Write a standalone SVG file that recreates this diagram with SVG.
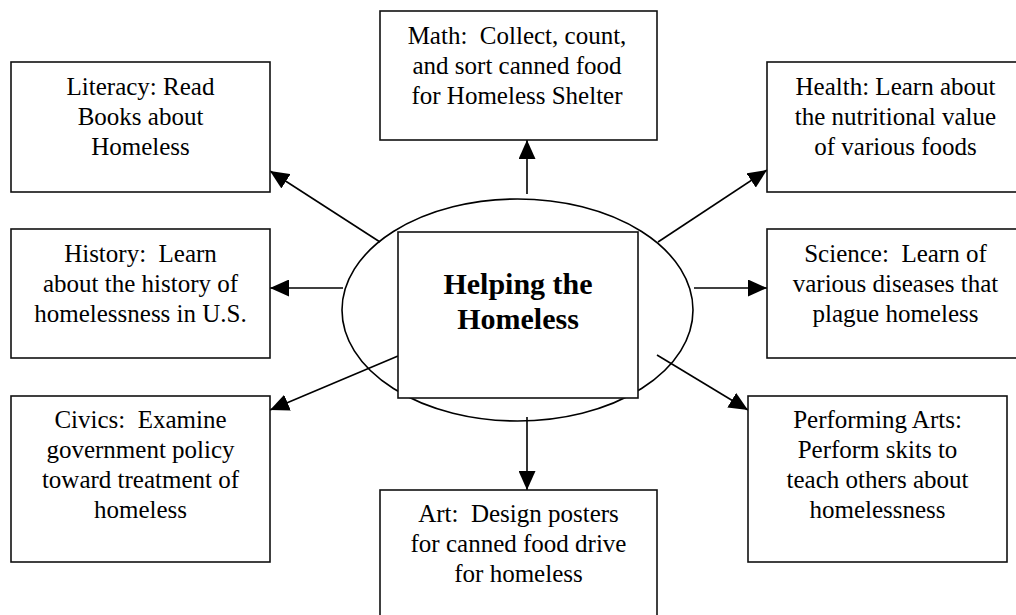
<svg xmlns="http://www.w3.org/2000/svg" width="1016" height="615" viewBox="0 0 1016 615">
<defs>
<marker id="arr" markerUnits="userSpaceOnUse" markerWidth="19" markerHeight="17" refX="19" refY="8.5" orient="auto"><path d="M0,0 L19,8.5 L0,17 Z" fill="#000"/></marker>
<style>
.box{fill:#fff;stroke:#111;stroke-width:1.6}
.t{font-family:"Liberation Serif","Times New Roman",serif;font-size:25px;fill:#000;text-anchor:middle;white-space:pre}
.b{font-family:"Liberation Serif","Times New Roman",serif;font-size:30px;font-weight:bold;fill:#000;text-anchor:middle}
.c{stroke:#000;stroke-width:1.6;fill:none;marker-end:url(#arr)}
</style>
</defs>
<rect width="1016" height="615" fill="#fff"/>
<g id="center-ellipse"><ellipse cx="517.5" cy="310" rx="175.5" ry="111" fill="#fff" stroke="#000" stroke-width="1.6"/></g>
<g id="connectors">
<line class="c" x1="527" y1="194" x2="527" y2="140"/>
<line class="c" x1="380" y1="242" x2="270" y2="171"/>
<line class="c" x1="658" y1="242" x2="767" y2="170"/>
<line class="c" x1="343" y1="288" x2="270" y2="288"/>
<line class="c" x1="694" y1="288" x2="767" y2="288"/>
<line class="c" x1="398" y1="356" x2="270" y2="410"/>
<line class="c" x1="657" y1="355" x2="748" y2="410"/>
<line class="c" x1="527" y1="417" x2="527" y2="490"/>
</g>
<g id="center"><rect class="box" x="398" y="232" width="240" height="166"/>
<text class="b" x="518" y="294">Helping the</text><text class="b" x="518" y="329">Homeless</text></g>
<g id="math"><rect class="box" x="380" y="11" width="277" height="129"/>
<text class="t" x="517" y="44">Math:  Collect, count,</text><text class="t" x="517" y="74">and sort canned food</text><text class="t" x="517" y="104">for Homeless Shelter</text></g>
<g id="literacy"><rect class="box" x="11" y="62" width="259" height="130"/>
<text class="t" x="140.5" y="95">Literacy: Read</text><text class="t" x="140.5" y="125">Books about</text><text class="t" x="140.5" y="155">Homeless</text></g>
<g id="history"><rect class="box" x="11" y="229" width="259" height="129"/>
<text class="t" x="140.5" y="262">History:  Learn</text><text class="t" x="140.5" y="292">about the history of</text><text class="t" x="140.5" y="322">homelessness in U.S.</text></g>
<g id="civics"><rect class="box" x="11" y="396" width="259" height="166"/>
<text class="t" x="140.5" y="428">Civics:  Examine</text><text class="t" x="140.5" y="458">government policy</text><text class="t" x="140.5" y="488">toward treatment of</text><text class="t" x="140.5" y="518">homeless</text></g>
<g id="health"><rect class="box" x="767" y="62" width="257" height="130"/>
<text class="t" x="895.5" y="95">Health: Learn about</text><text class="t" x="895.5" y="125">the nutritional value</text><text class="t" x="895.5" y="155">of various foods</text></g>
<g id="science"><rect class="box" x="767" y="229" width="257" height="129"/>
<text class="t" x="895.5" y="262">Science:  Learn of</text><text class="t" x="895.5" y="292">various diseases that</text><text class="t" x="895.5" y="322">plague homeless</text></g>
<g id="performing-arts"><rect class="box" x="748" y="396" width="259" height="166"/>
<text class="t" x="877.5" y="428">Performing Arts:</text><text class="t" x="877.5" y="458">Perform skits to</text><text class="t" x="877.5" y="488">teach others about</text><text class="t" x="877.5" y="518">homelessness</text></g>
<g id="art"><rect class="box" x="380" y="490" width="277" height="140"/>
<text class="t" x="518.5" y="522">Art:  Design posters</text><text class="t" x="518.5" y="552">for canned food drive</text><text class="t" x="518.5" y="582">for homeless</text></g>
</svg>
